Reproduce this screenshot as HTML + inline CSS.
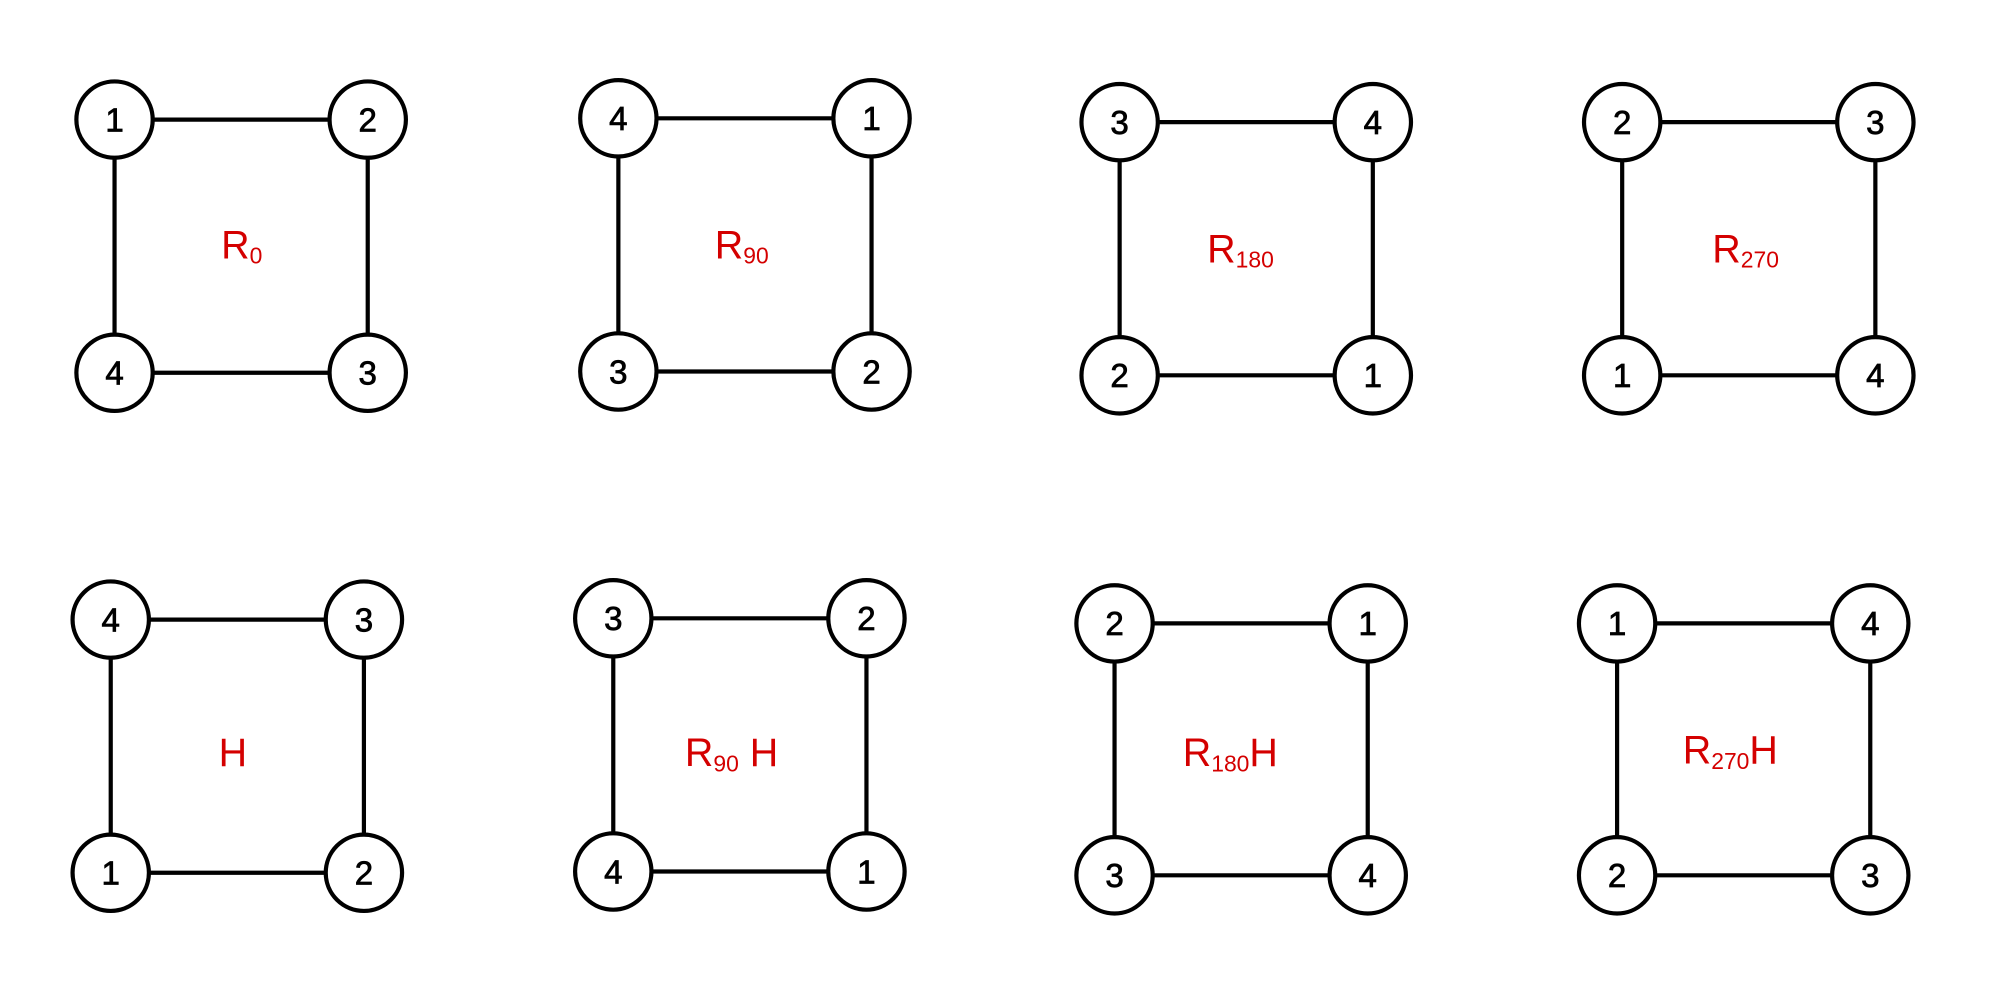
<!DOCTYPE html>
<html><head><meta charset="utf-8"><style>
html,body{margin:0;padding:0;background:#fff;}
svg{display:block}
.n{font-family:"Liberation Sans",sans-serif;font-size:26px;text-anchor:middle;dominant-baseline:central;fill:#000;stroke:#000;stroke-width:0.6}
.l{font-family:"Liberation Sans",sans-serif;font-size:31px;fill:#d40000;text-anchor:middle;dominant-baseline:central}
.s{font-size:18px}
</style></head><body>
<svg width="1995" height="1000" viewBox="0 0 1568 786" xmlns="http://www.w3.org/2000/svg">
<g stroke="#000" stroke-width="3.3" fill="none">
<path d="M90 94H289V293H90Z"/>
<path d="M486 93H685V292H486Z"/>
<path d="M880 96H1079V295H880Z"/>
<path d="M1275 96H1474V295H1275Z"/>
<path d="M87 487H286V686H87Z"/>
<path d="M482 486H681V685H482Z"/>
<path d="M876 490H1075V688H876Z"/>
<path d="M1271 490H1470V688H1271Z"/>
</g>
<g stroke="#000" stroke-width="3.3" fill="#fff">
<circle cx="90" cy="94" r="30"/><circle cx="289" cy="94" r="30"/><circle cx="90" cy="293" r="30"/><circle cx="289" cy="293" r="30"/>
<circle cx="486" cy="93" r="30"/><circle cx="685" cy="93" r="30"/><circle cx="486" cy="292" r="30"/><circle cx="685" cy="292" r="30"/>
<circle cx="880" cy="96" r="30"/><circle cx="1079" cy="96" r="30"/><circle cx="880" cy="295" r="30"/><circle cx="1079" cy="295" r="30"/>
<circle cx="1275" cy="96" r="30"/><circle cx="1474" cy="96" r="30"/><circle cx="1275" cy="295" r="30"/><circle cx="1474" cy="295" r="30"/>
<circle cx="87" cy="487" r="30"/><circle cx="286" cy="487" r="30"/><circle cx="87" cy="686" r="30"/><circle cx="286" cy="686" r="30"/>
<circle cx="482" cy="486" r="30"/><circle cx="681" cy="486" r="30"/><circle cx="482" cy="685" r="30"/><circle cx="681" cy="685" r="30"/>
<circle cx="876" cy="490" r="30"/><circle cx="1075" cy="490" r="30"/><circle cx="876" cy="688" r="30"/><circle cx="1075" cy="688" r="30"/>
<circle cx="1271" cy="490" r="30"/><circle cx="1470" cy="490" r="30"/><circle cx="1271" cy="688" r="30"/><circle cx="1470" cy="688" r="30"/>
</g>
<g class="n">
<text x="90" y="95">1</text><text x="289" y="95">2</text><text x="90" y="294">4</text><text x="289" y="294">3</text>
<text x="486" y="94">4</text><text x="685" y="94">1</text><text x="486" y="293">3</text><text x="685" y="293">2</text>
<text x="880" y="97">3</text><text x="1079" y="97">4</text><text x="880" y="296">2</text><text x="1079" y="296">1</text>
<text x="1275" y="97">2</text><text x="1474" y="97">3</text><text x="1275" y="296">1</text><text x="1474" y="296">4</text>
<text x="87" y="488">4</text><text x="286" y="488">3</text><text x="87" y="687">1</text><text x="286" y="687">2</text>
<text x="482" y="487">3</text><text x="681" y="487">2</text><text x="482" y="686">4</text><text x="681" y="686">1</text>
<text x="876" y="491">2</text><text x="1075" y="491">1</text><text x="876" y="689">3</text><text x="1075" y="689">4</text>
<text x="1271" y="491">1</text><text x="1470" y="491">4</text><text x="1271" y="689">2</text><text x="1470" y="689">3</text>
</g>
<g class="l">
<text x="190" y="193">R<tspan class="s" dy="8">0</tspan></text>
<text x="583" y="193">R<tspan class="s" dy="8">90</tspan></text>
<text x="975" y="196">R<tspan class="s" dy="8">180</tspan></text>
<text x="1372" y="196">R<tspan class="s" dy="8">270</tspan></text>
<text x="183" y="592">H</text>
<text x="575" y="592">R<tspan class="s" dy="8">90</tspan><tspan dy="-8"> H</tspan></text>
<text x="967" y="592">R<tspan class="s" dy="8">180</tspan><tspan dy="-8">H</tspan></text>
<text x="1360" y="590">R<tspan class="s" dy="8">270</tspan><tspan dy="-8">H</tspan></text>
</g>
</svg>
</body></html>
